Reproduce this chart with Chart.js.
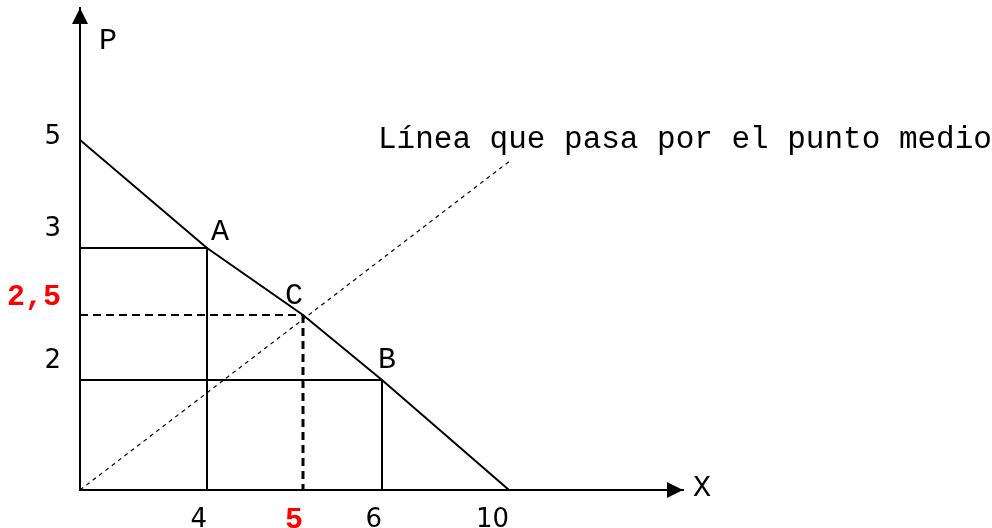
<!DOCTYPE html>
<html>
<head>
<meta charset="utf-8">
<script src="https://cdn.jsdelivr.net/npm/chart.js@4.4.1/dist/chart.umd.min.js"></script>
<style>
  html, body { margin: 0; padding: 0; background: #fff; }
  #wrap { width: 992px; height: 528px; }
</style>
</head>
<body>
<div id="wrap"><canvas id="chart"></canvas></div>
<script>
// values
const xTicks = [4, 5, 6, 10];
const xTickLabels = ['4', '5', '6', '10'];
const yTicks = [2, 2.5, 3, 5];
const yTickLabels = ['2', '2,5', '3', '5'];
const xHighlight = 5;
const yHighlight = 2.5;

const demandX = [0, 4, 5, 6, 10];
const demandY = [5, 3, 2.5, 2, 0];
const midX = [0, 10];
const midY = [0, 4.6];
const pointNames = ['A', 'C', 'B'];
const pointX = [4, 5, 6];
const pointY = [3, 2.5, 2];
const midLabel = 'Línea que pasa por el punto medio';
const xName = 'X';
const yName = 'P';

// the sketch is not drawn to scale: pixel distance from the origin for each axis value
const xWarp = { values: [0, 4, 5, 6, 10, 14], px: [0, 127, 223, 302, 429, 603] };
const yWarp = { values: [0, 2, 2.5, 3, 5, 8], px: [0, 110, 175, 242, 350, 482] };

class SketchScale extends Chart.LinearScale {
  warp() { return this.axis === 'x' ? xWarp : yWarp; }
  getPixelForValue(value) {
    if (value === null || value === undefined || isNaN(value)) return NaN;
    const w = this.warp();
    const n = w.values.length;
    let i = 1;
    while (i < n - 1 && value > w.values[i]) i++;
    const t = (value - w.values[i - 1]) / (w.values[i] - w.values[i - 1]);
    const off = w.px[i - 1] + t * (w.px[i] - w.px[i - 1]);
    return this.getPixelForDecimal(off / w.px[n - 1]);
  }
  getValueForPixel(pixel) {
    const w = this.warp();
    const n = w.values.length;
    const off = this.getDecimalForPixel(pixel) * w.px[n - 1];
    let i = 1;
    while (i < n - 1 && off > w.px[i]) i++;
    const t = (off - w.px[i - 1]) / (w.px[i] - w.px[i - 1]);
    return w.values[i - 1] + t * (w.values[i] - w.values[i - 1]);
  }
}
SketchScale.id = 'sketch';
SketchScale.defaults = Chart.LinearScale.defaults;
Chart.register(SketchScale);

const pts = (xs, ys) => xs.map((x, i) => ({ x: x, y: ys[i] }));
const iA = pointNames.indexOf('A'), iB = pointNames.indexOf('B'), iC = pointNames.indexOf('C');

const digitFont = { family: 'DejaVu Sans', size: 26 };
const redFont = { family: 'Liberation Mono', size: 30, weight: 'bold', lineHeight: 1 };
const letterFont = '30px "Liberation Mono"';

const solid = { borderColor: '#000', borderWidth: 2 };

const datasets = [
  Object.assign({ data: pts(demandX, demandY) }, solid),
  Object.assign({ data: pts([0, pointX[iA], pointX[iA]], [pointY[iA], pointY[iA], 0]) }, solid),
  Object.assign({ data: pts([0, pointX[iB], pointX[iB]], [pointY[iB], pointY[iB], 0]) }, solid),
  { data: pts([0, pointX[iC]], [pointY[iC], pointY[iC]]), borderColor: '#000', borderWidth: 2, borderDash: [8, 5] },
  { data: pts([pointX[iC], pointX[iC]], [pointY[iC], 0]), borderColor: '#000', borderWidth: 3, borderDash: [8, 5] },
  { data: pts(midX, midY), borderColor: '#000', borderWidth: 1.2, borderDash: [4, 4] }
];

// label offsets from their points, in px
const nameOffsets = { A: [13, -16], C: [-9, -19], B: [5, -20] };

const sketchPlugin = {
  id: 'sketchExtras',
  afterDraw(chart) {
    const { ctx, chartArea: a, scales: { x, y } } = chart;
    ctx.save();
    ctx.fillStyle = '#000';
    // arrow heads
    ctx.beginPath();
    ctx.moveTo(a.left, a.top);
    ctx.lineTo(a.left - 8, a.top + 16);
    ctx.lineTo(a.left + 8, a.top + 16);
    ctx.closePath();
    ctx.fill();
    ctx.beginPath();
    ctx.moveTo(a.right, a.bottom);
    ctx.lineTo(a.right - 16, a.bottom - 8);
    ctx.lineTo(a.right - 16, a.bottom + 8);
    ctx.closePath();
    ctx.fill();

    ctx.font = letterFont;
    ctx.textAlign = 'center';
    ctx.textBaseline = 'middle';
    pointNames.forEach((n, i) => {
      const o = nameOffsets[n];
      ctx.fillText(n, x.getPixelForValue(pointX[i]) + o[0], y.getPixelForValue(pointY[i]) + o[1]);
    });
    ctx.fillText(yName, a.left + 28, a.top + 33);
    ctx.fillText(xName, a.right + 19, a.bottom - 2);

    ctx.font = '31px "Liberation Mono"';
    ctx.textAlign = 'left';
    const ex = x.getPixelForValue(midX[1]);
    const ey = y.getPixelForValue(midY[1]);
    ctx.fillText(midLabel, ex - 131, ey - 22);
    ctx.restore();
  }
};

new Chart(document.getElementById('chart'), {
  type: 'scatter',
  data: { datasets: datasets },
  options: {
    responsive: true,
    maintainAspectRatio: false,
    animation: false,
    events: [],
    layout: { padding: { top: 8, right: 309, bottom: 0, left: 0 } },
    elements: {
      point: { radius: 0 },
      line: { tension: 0, fill: false }
    },
    datasets: { scatter: { showLine: true } },
    plugins: { legend: { display: false }, tooltip: { enabled: false } },
    scales: {
      x: {
        type: 'sketch',
        min: 0,
        max: 14,
        grid: { display: false, drawTicks: false },
        border: { display: true, color: '#000', width: 2 },
        afterBuildTicks: s => { s.ticks = xTicks.map(v => ({ value: v })); },
        afterFit: s => { s.height = 38; s.paddingLeft = 0; s.paddingRight = 0; },
        ticks: {
          autoSkip: false,
          maxRotation: 0,
          minRotation: 0,
          align: 'end',
          padding: 15,
          labelOffset: 0,
          color: c => (c.tick && c.tick.value === xHighlight) ? '#ff0000' : '#000',
          font: c => (c.tick && c.tick.value === xHighlight) ? redFont : digitFont,
          callback: v => xTickLabels[xTicks.indexOf(v)]
        }
      },
      y: {
        type: 'sketch',
        min: 0,
        max: 8,
        grid: { display: false, drawTicks: false },
        border: { display: true, color: '#000', width: 2 },
        afterBuildTicks: s => { s.ticks = yTicks.map(v => ({ value: v })); },
        afterFit: s => { s.width = 80; s.paddingTop = 0; s.paddingBottom = 0; },
        ticks: {
          autoSkip: false,
          padding: 19,
          labelOffset: -3,
          color: c => (c.tick && c.tick.value === yHighlight) ? '#ff0000' : '#000',
          font: c => (c.tick && c.tick.value === yHighlight) ? redFont : digitFont,
          // the sketch writes the lower labels just above their lines
          callback: v => {
            const t = yTickLabels[yTicks.indexOf(v)];
            return v === yTicks[yTicks.length - 1] ? t : [t, ''];
          }
        }
      }
    }
  },
  plugins: [sketchPlugin]
});
</script>
</body>
</html>
